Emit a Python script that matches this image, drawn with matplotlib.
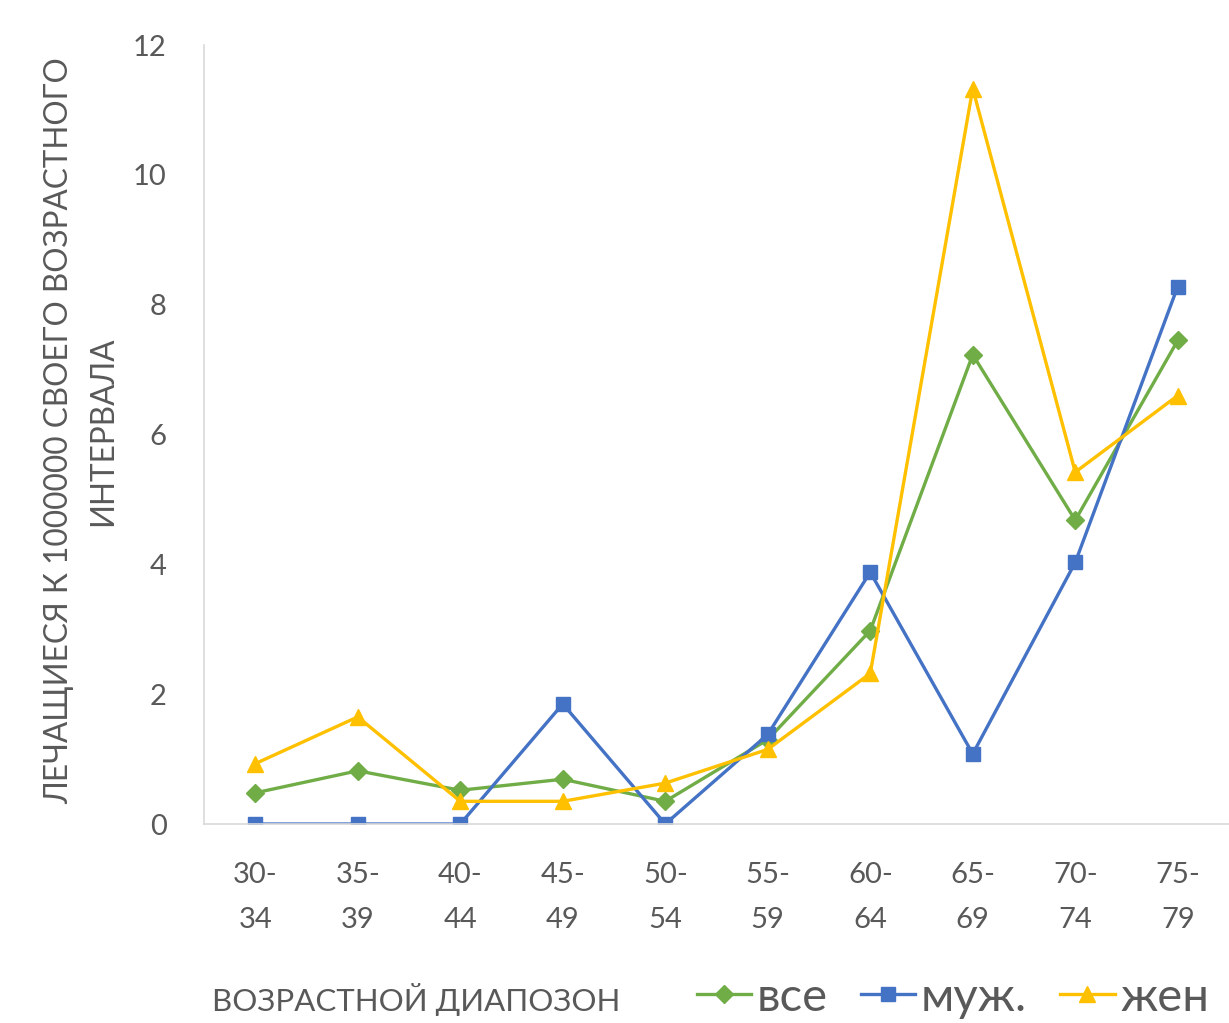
import numpy as np
import matplotlib
matplotlib.use("Agg")
import matplotlib.pyplot as plt

plt.rcParams['font.family'] = ['Lato', 'DejaVu Sans']

# age intervals and values
ages = ['30-\n34', '35-\n39', '40-\n44', '45-\n49', '50-\n54',
        '55-\n59', '60-\n64', '65-\n69', '70-\n74', '75-\n79']
vse = [0.48, 0.82, 0.52, 0.69, 0.35, 1.30, 2.98, 7.23, 4.68, 7.45]
muzh = [0.0, 0.0, 0.0, 1.85, 0.0, 1.38, 3.88, 1.08, 4.03, 8.28]
zhen = [0.93, 1.65, 0.35, 0.35, 0.63, 1.15, 2.32, 11.33, 5.42, 6.60]

x = np.arange(len(ages))

fig = plt.figure(figsize=(12.29, 10.23), dpi=100)
ax = fig.add_axes([0.166, 0.1945, 0.834, 0.7615])

ax.plot(x, vse, color='#70AD47', lw=2.4, marker='D', ms=9, label='все')
ax.plot(x, muzh, color='#4472C4', lw=2.4, marker='s', ms=10, label='муж.')
ax.plot(x, zhen, color='#FFC000', lw=2.4, marker='^', ms=11, label='жен')

ax.set_xlim(-0.5, 9.5)
ax.set_ylim(0, 12)
ax.set_yticks(range(0, 13, 2))
ax.set_xticks(x)
ax.set_xticklabels(ages, linespacing=1.95)

for s in ['top', 'right']:
    ax.spines[s].set_visible(False)
for s in ['left', 'bottom']:
    ax.spines[s].set_color('#d9d9d9')
    ax.spines[s].set_linewidth(1.2)
ax.tick_params(axis='both', length=0, labelsize=21, colors='#595959', pad=27)

fig.text(81 / 1229, 1 - 431 / 1023,
         'ЛЕЧАЩИЕСЯ К 1000000 СВОЕГО ВОЗРАСТНОГО\nИНТЕРВАЛА',
         rotation=90, ha='center', va='center', multialignment='center',
         fontsize=22.7, color='#595959', linespacing=1.6)

fig.text(212 / 1229, 1 - 1000 / 1023, 'ВОЗРАСТНОЙ ДИАПОЗОН',
         ha='left', va='center', fontsize=22.5, color='#595959')

fig.legend(loc='center left', bbox_to_anchor=(697 / 1229, 1 - 998 / 1023),
           ncol=3, frameon=False, fontsize=34, labelcolor='#595959',
           handlelength=1.15, handletextpad=0.12, columnspacing=0.7,
           borderpad=0, borderaxespad=0)

fig.savefig('out.png', dpi=100)
